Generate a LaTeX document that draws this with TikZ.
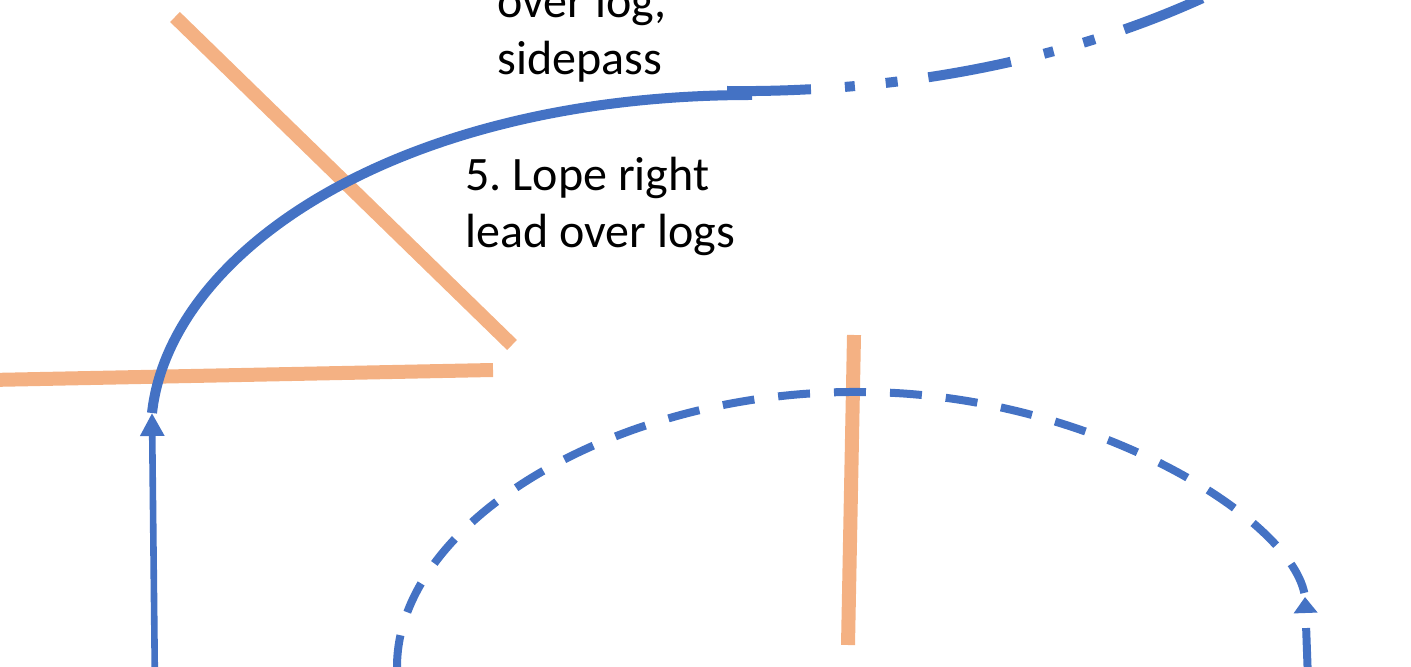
\documentclass[tikz,border=0pt]{standalone}
\usepackage{fontspec}
\setmainfont{Carlito}
\usetikzlibrary{arrows.meta}

\definecolor{pathblue}{HTML}{4472C4}
\definecolor{logorange}{HTML}{F4B183}

\begin{document}
\begin{tikzpicture}[x=0.5pt,y=-0.5pt,
	log/.style={line width=7pt,logorange},
	ride/.style={line width=5pt,pathblue},
	walk/.style={line width=3.3pt,pathblue},
	trot/.style={line width=4pt,pathblue,dash pattern=on 16pt off 12pt},
	lbl/.style={anchor=base west,align=left,inner sep=0pt,
		font=\fontsize{24}{28.5}\selectfont}]
\useasboundingbox (0,0) rectangle (1411,667);
\clip (0,0) rectangle (1411,667);
% logs
\coordinate (A) at (175,17);
\coordinate (AB) at (512,345);
\coordinate (B) at (-10,380);
\coordinate (BB) at (493,370);
\coordinate (C) at (854,335);
\coordinate (CB) at (848,645);
\draw[log] (A)--(AB);
\draw[log] (B)--(BB);
\draw[log] (C)--(CB);
% walk in, lope over the logs
\coordinate (W) at (155,690);
\coordinate (WT) at (152,413);
\coordinate (R) at (752,95);
\coordinate (S) at (727,91);
\coordinate (SE) at (1230,-15);
\draw[walk,-{Triangle[length=11.5pt,width=11.5pt]}] (W)--(WT);
\draw[ride] (WT) .. controls (170,250) and (400,95) .. (R);
\draw[ride,dash pattern=on 42pt off 17pt on 5pt off 15.5pt on 6pt off 15.5pt]
	(S) .. controls (900,93) and (1080,60) .. (SE);
% dashed loop round the last log
\coordinate (D) at (397,667);
\coordinate (DT) at (860,392);
\coordinate (DE) at (1305,597);
\coordinate (DB) at (1308,680);
\draw[trot] (D) .. controls (397,520) and (620,390) .. (DT)
	.. controls (1090,392) and (1295,520) .. (DE);
\draw[trot,dash pattern=on 26pt off 8pt,-{Triangle[length=8pt,width=11.5pt]}] (DB)--(DE);
% labels
\node[lbl] (sidepass) at (497,75) {over log,\\sidepass};
\node[lbl] (lope) at (465,248) {5.\ Lope right\\lead over logs};
\end{tikzpicture}
\end{document}
